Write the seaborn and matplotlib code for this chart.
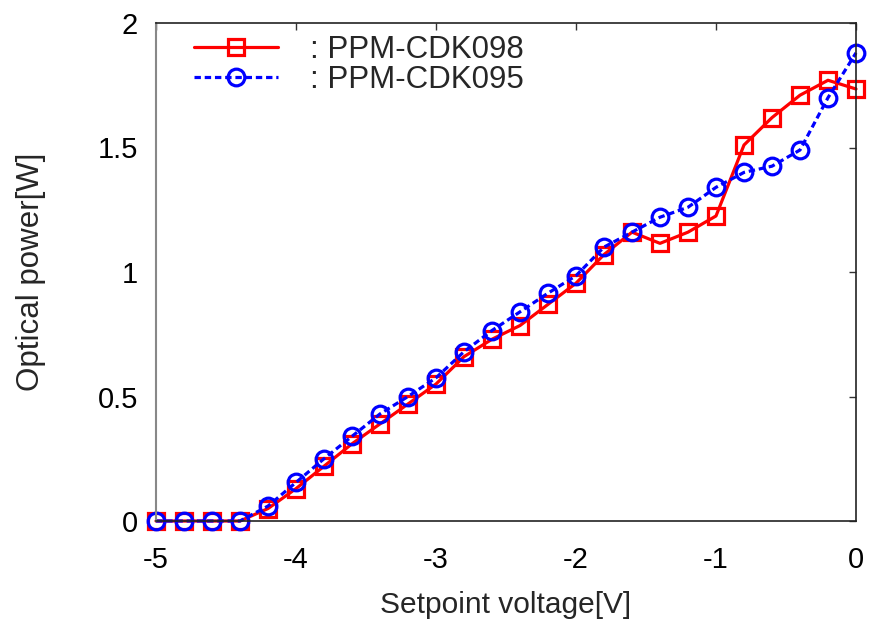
import matplotlib
matplotlib.use("Agg")
import matplotlib.pyplot as plt
import seaborn as sns
import numpy as np
import pandas as pd

voltage = [-5.0, -4.8, -4.6, -4.4, -4.2, -4.0, -3.8, -3.6, -3.4, -3.2, -3.0, -2.8, -2.6,
           -2.4, -2.2, -2.0, -1.8, -1.6, -1.4, -1.2, -1.0, -0.8, -0.6, -0.4, -0.2, 0.0]
power_098 = [0, 0, 0, 0, 0.05, 0.13, 0.22, 0.31, 0.39, 0.47, 0.55, 0.66, 0.73,
             0.785, 0.87, 0.955, 1.07, 1.16, 1.115, 1.16, 1.225, 1.51, 1.62, 1.71, 1.77, 1.735]
power_095 = [0, 0, 0, 0, 0.06, 0.155, 0.25, 0.34, 0.43, 0.50, 0.575, 0.68, 0.765,
             0.84, 0.915, 0.985, 1.10, 1.16, 1.22, 1.26, 1.34, 1.40, 1.425, 1.49, 1.70, 1.88]
label_098 = ": PPM-CDK098"
label_095 = ": PPM-CDK095"
xticks = [-5, -4, -3, -2, -1, 0]
yticks = [0, 0.5, 1, 1.5, 2]
yticklabels = ["0", "0.5", "1", "1.5", "2"]

sns.set_theme(style="white")
plt.rcParams['font.family'] = ['Liberation Sans', 'DejaVu Sans']
plt.rcParams['axes.unicode_minus'] = False

fig = plt.figure(figsize=(8.69, 6.19), dpi=100)
ax = fig.add_axes([156/869, 1 - 521/619, 700/869, 498/619])

sns.lineplot(x=voltage, y=power_098, ax=ax, color="#ff0000", linewidth=2.3,
             marker="s", markersize=12, markerfacecolor="none",
             markeredgecolor="#ff0000", markeredgewidth=2.3, clip_on=False,
             label=label_098)
sns.lineplot(x=voltage, y=power_095, ax=ax, color="#0000ff", linewidth=2.3,
             linestyle=(0, (2.0, 1.2)),
             marker="o", markersize=12, markerfacecolor="none",
             markeredgecolor="#0000ff", markeredgewidth=2.3, clip_on=False,
             label=label_095)

ax.set_xlim(-5, 0)
ax.set_ylim(0, 2)
ax.set_xticks(xticks)
ax.set_xticklabels([str(t) for t in xticks])
ax.set_yticks(yticks)
ax.set_yticklabels(yticklabels)

ax.tick_params(direction="in", length=5, width=1, colors="#333333",
               labelcolor="black", labelsize=21, top=True, right=True)
ax.tick_params(axis="x", pad=18)
ax.tick_params(axis="y", pad=13)

for side in ["top", "bottom", "right"]:
    ax.spines[side].set_color("#222222")
    ax.spines[side].set_linewidth(1.2)
ax.spines["left"].set_color("#888888")
ax.spines["left"].set_linewidth(1.5)

ax.set_xlabel("Setpoint voltage[V]", fontsize=21.5, labelpad=12)
ax.set_ylabel("Optical power[W]", fontsize=22.5, labelpad=37)

leg = ax.legend(loc="upper left", bbox_to_anchor=(194/869, 1 - 35/619),
                bbox_transform=fig.transFigure, frameon=False, fontsize=22.5,
                handlelength=2.7, handletextpad=1.0, labelspacing=0.0,
                borderpad=0, borderaxespad=0)

fig.savefig("out.png", dpi=100)
